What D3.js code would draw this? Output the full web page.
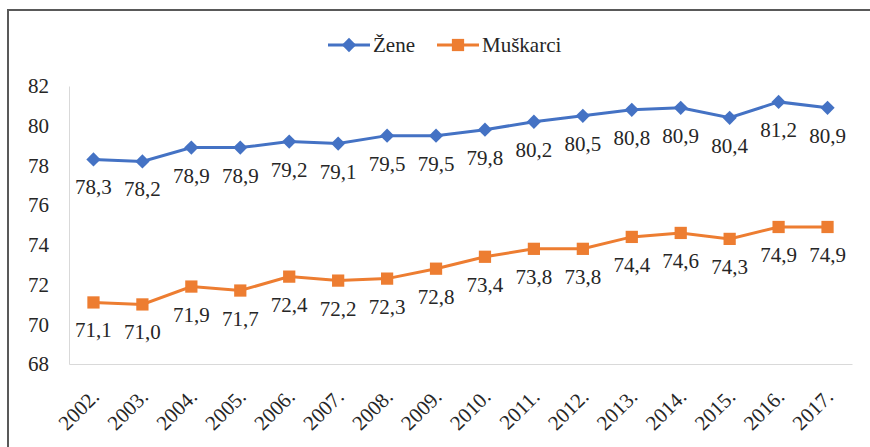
<!DOCTYPE html>
<html lang="hr">
<head>
<meta charset="UTF-8">
<title>Očekivano trajanje života</title>
<style>
  body { margin: 0; background: #fff; }
  svg text { font-family: "Liberation Serif", "Times New Roman", serif; fill: #262626; }
</style>
</head>
<body>
<svg width="870" height="447" id="svg"></svg>
<script src="https://d3js.org/d3.v7.min.js"></script>
<script>
// podaci
const years = ["2002.", "2003.", "2004.", "2005.", "2006.", "2007.", "2008.", "2009.",
  "2010.", "2011.", "2012.", "2013.", "2014.", "2015.", "2016.", "2017."]
const zene = [78.3, 78.2, 78.9, 78.9, 79.2, 79.1, 79.5, 79.5, 79.8, 80.2, 80.5, 80.8, 80.9, 80.4, 81.2, 80.9]
const muskarci = [71.1, 71.0, 71.9, 71.7, 72.4, 72.2, 72.3, 72.8, 73.4, 73.8, 73.8, 74.4, 74.6, 74.3, 74.9, 74.9]
const yTicks = [68, 70, 72, 74, 76, 78, 80, 82]

const series = [
  { name: "Žene", values: zene, color: "#4472C4", marker: d3.symbolDiamond2 },
  { name: "Muškarci", values: muskarci, color: "#ED7D31", marker: d3.symbolSquare }
]

const svg = d3.select("svg#svg")
const padding = { top: 86, bottom: 83, left: 69, right: 18 }
const width = +svg.attr("width")
const height = +svg.attr("height")
const fs = 21

// okvir
svg.append("path").attr("d", `M8,${height} L8,10 L${width},10`)
  .attr("fill", "none").attr("stroke", "#595959").attr("stroke-width", 2)

const xScale = d3.scaleBand().domain(years).range([padding.left, width - padding.right])
const yScale = d3.scaleLinear().domain([68, 82]).range([height - padding.bottom, padding.top])

// osi
const yAxis = d3.axisLeft(yScale).tickValues(yTicks).tickSize(0).tickPadding(20).tickFormat(d3.format("d"))
svg.append("g").attr("class", "yAxis").attr("transform", `translate(${padding.left},0)`).call(yAxis)
  .call(g => g.select(".domain").attr("stroke", "#d9d9d9"))
  .call(g => g.selectAll(".tick text").attr("font-size", fs).attr("font-family", "Liberation Serif").attr("fill", "#262626"))

const xAxis = d3.axisBottom(xScale).tickSize(0).tickPadding(0)
svg.append("g").attr("class", "xAxis").attr("transform", `translate(0,${yScale(68)})`).call(xAxis)
  .call(g => g.select(".domain").attr("stroke", "#d9d9d9"))
  .call(g => g.selectAll(".tick text")
    .attr("font-size", fs).attr("font-family", "Liberation Serif").attr("fill", "#262626")
    .attr("text-anchor", "end").attr("dy", 0).attr("y", 0)
    .attr("transform", "translate(7,34) rotate(-45)"))

// linije
const line = d3.line().x((d, i) => xScale(years[i]) + xScale.bandwidth() / 2).y(d => yScale(d))

series.forEach(s => {
  const g = svg.append("g")
  g.append("path").datum(s.values).attr("d", line)
    .attr("fill", "none").attr("stroke", s.color).attr("stroke-width", 3)
  g.selectAll("path.m").data(s.values).join("path").attr("class", "m")
    .attr("d", d3.symbol().type(s.marker).size(s.marker === d3.symbolSquare ? 150 : 130))
    .attr("transform", (d, i) => `translate(${xScale(years[i]) + xScale.bandwidth() / 2},${yScale(d)})`)
    .attr("fill", s.color)
  g.selectAll("text").data(s.values).join("text")
    .attr("x", (d, i) => xScale(years[i]) + xScale.bandwidth() / 2)
    .attr("y", d => yScale(d) + 35)
    .attr("text-anchor", "middle").attr("font-size", fs)
    .text(d => d3.format(".1f")(d).replace(".", ","))
})

// legenda
const legendX = [328, 437]
series.forEach((s, i) => {
  const lg = svg.append("g").attr("transform", `translate(${legendX[i]},45)`)
  lg.append("line").attr("x1", 0).attr("x2", 42).attr("stroke", s.color).attr("stroke-width", 3)
  lg.append("path").attr("d", d3.symbol().type(s.marker).size(s.marker === d3.symbolSquare ? 150 : 130))
    .attr("transform", "translate(21,0)").attr("fill", s.color)
  lg.append("text").attr("x", 45).attr("y", 7).attr("font-size", fs).text(s.name)
})
</script>
</body>
</html>
